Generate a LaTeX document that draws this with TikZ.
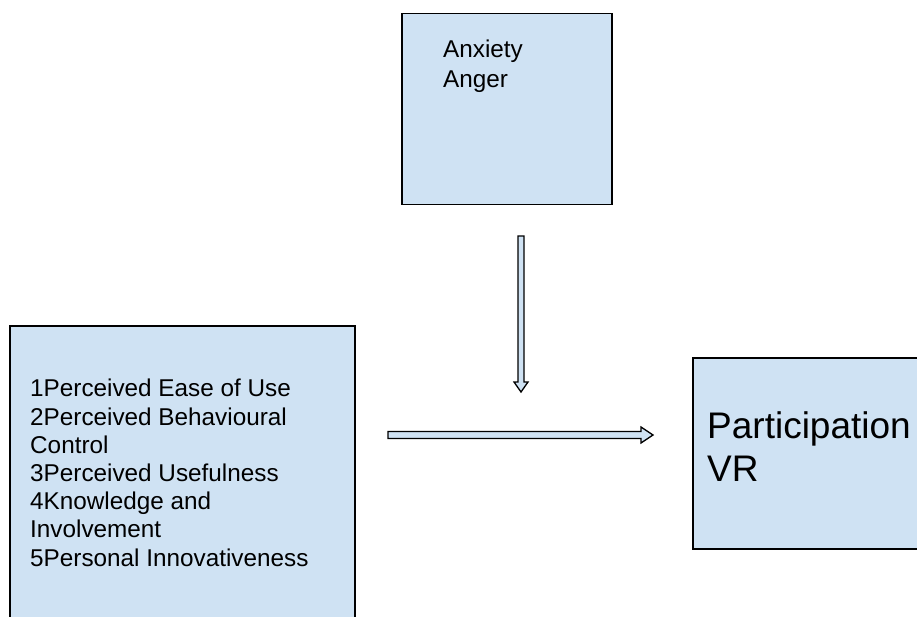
\documentclass[tikz,border=0pt]{standalone}
\usepackage{fontspec}
\setmainfont{Liberation Sans}
\usepackage{xcolor}
\usepackage{tikz}
\usetikzlibrary{calc,positioning}
\definecolor{boxblue}{HTML}{CFE2F3}
\tikzset{
  factbox/.style   = {rectangle, draw=black, fill=boxblue, line width=1.5pt,
                      inner sep=0pt, anchor=north west},
  facttext/.style  = {anchor=north west, inner sep=0pt, align=left,
                      font=\fontsize{24.3}{28.2}\selectfont},
  bigtext/.style   = {anchor=north west, inner sep=0pt, align=left,
                      font=\fontsize{37}{43}\selectfont},
  blockarrow/.style = {draw=black, fill=boxblue, line width=1.3pt, line join=miter},
}
\begin{document}
\begin{tikzpicture}[x=1pt, y=-1pt]
  \clip (0,0) rectangle (917,617);
  \fill[white] (0,0) rectangle (917,617);
  % boxes
  \node[factbox, minimum width=210, minimum height=191] (mood) at (401,13) {};
  \node[factbox, minimum width=345, minimum height=320] (factors) at (9,325) {};
  \node[factbox, minimum width=260, minimum height=191] (part) at (692,357) {};
  % texts
  \node[facttext] (moodtxt) at (443,40) {Anxiety\\[1.5pt]Anger};
  \node[facttext] (factxt) at (30,379) {1Perceived Ease of Use\\2Perceived Behavioural\\Control\\3Perceived Usefulness\\4Knowledge and\\Involvement\\5Personal Innovativeness};
  \node[bigtext] (parttxt) at (707,411) {Participation\\VR};
  % arrows
  \coordinate (vs) at (521,236);
  \coordinate (ve) at (521,392);
  \coordinate (hs) at (388,435);
  \coordinate (he) at (653,435);
  \draw[blockarrow] ($(vs)+(-3,0)$) -- ($(ve)+(-3,-10)$) -- ($(ve)+(-7,-10)$) -- (ve)
    -- ($(ve)+(7,-10)$) -- ($(ve)+(3,-10)$) -- ($(vs)+(3,0)$) -- cycle;
  \draw[blockarrow] ($(hs)+(0,-3.5)$) -- ($(he)+(-12,-3.5)$) -- ($(he)+(-12,-8)$) -- (he)
    -- ($(he)+(-12,8)$) -- ($(he)+(-12,3.5)$) -- ($(hs)+(0,3.5)$) -- cycle;
\end{tikzpicture}
\end{document}
